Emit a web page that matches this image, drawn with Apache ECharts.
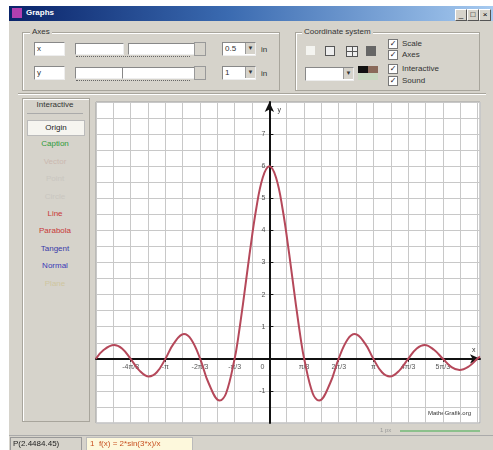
<!DOCTYPE html>
<html>
<head>
<meta charset="utf-8">
<script src="https://cdn.jsdelivr.net/npm/echarts@6/dist/echarts.min.js"></script>
<style>
  body { margin: 0; width: 493px; height: 450px; background: #fff; position: relative; overflow: hidden;
         font-family: "Liberation Sans", "DejaVu Sans", sans-serif; font-size: 8px; color: #333; }
  .abs { position: absolute; }
  .win { left: 9px; top: 6px; width: 484px; height: 444px; background: #d6d3cb; }
  .title { left: 9px; top: 6px; width: 484px; height: 15px; background: linear-gradient(to right, #0a246a, #3a6ab0 45%, #a6caf0); }
  .tbtn { top: 9px; width: 10px; height: 10px; background: #d6d3cb; border: 1px solid #fff; border-right-color: #555; border-bottom-color: #555;
          font-size: 8px; line-height: 9px; text-align: center; color: #000; }
  .group { border: 1px solid #a8a59c; box-shadow: 1px 1px 0 #fff inset; }
  .glabel { background: #d6d3cb; padding: 0 2px; color: #333; }
  .field { background: #fff; border: 1px solid #888; border-right-color: #eee; border-bottom-color: #eee; }
  .dots { height: 2px; border-bottom: 1px dotted #666; }
  .combo { background: #fff; border: 1px solid #888; border-right-color: #eee; border-bottom-color: #eee; padding-left: 2px; line-height: 12px; }
  .arrow { right: 0; top: 0; width: 9px; height: 11px; background: #d6d3cb; border-left: 1px solid #999; font-size: 6px; text-align: center; line-height: 11px; }
  .chk { width: 8px; height: 8px; background: #fff; border: 1px solid #777; font-size: 8px; line-height: 8px; text-align: center; color: #222; }
  .ibtn { left: 27px; width: 56px; height: 14px; text-align: center; line-height: 14px; }
</style>
</head>
<body>
<div class="abs win"></div>
<div class="abs title"></div>
<div class="abs" style="left:12px;top:8px;width:10px;height:10px;background:#b040b0;"></div>
<div class="abs" style="left:26px;top:8px;color:#fff;font-weight:bold;font-size:8px;">Graphs</div>
<div class="abs tbtn" style="left:455px;">_</div>
<div class="abs tbtn" style="left:467px;">□</div>
<div class="abs tbtn" style="left:479px;">×</div>

<!-- Axes group -->
<div class="abs group" style="left:22px;top:32px;width:256px;height:57px;"></div>
<div class="abs glabel" style="left:30px;top:27px;">Axes</div>
<div class="abs field" style="left:34px;top:42px;width:27px;height:12px;padding-left:2px;line-height:12px;">x</div>
<div class="abs field" style="left:75px;top:43px;width:47px;height:10px;"></div>
<div class="abs field" style="left:128px;top:43px;width:65px;height:10px;"></div>
<div class="abs" style="left:194px;top:42px;width:10px;height:12px;background:#d6d3cb;border:1px solid #999;"></div>
<div class="abs dots" style="left:76px;top:54px;width:114px;"></div>
<div class="abs combo" style="left:222px;top:42px;width:30px;height:12px;">0.5<div class="abs arrow">▼</div></div>
<div class="abs" style="left:261px;top:45px;">in</div>
<div class="abs field" style="left:34px;top:66px;width:27px;height:12px;padding-left:2px;line-height:12px;">y</div>
<div class="abs field" style="left:75px;top:67px;width:47px;height:10px;"></div>
<div class="abs field" style="left:122px;top:67px;width:71px;height:10px;"></div>
<div class="abs" style="left:194px;top:66px;width:10px;height:12px;background:#d6d3cb;border:1px solid #999;"></div>
<div class="abs dots" style="left:76px;top:78px;width:114px;"></div>
<div class="abs combo" style="left:222px;top:66px;width:30px;height:12px;">1<div class="abs arrow">▼</div></div>
<div class="abs" style="left:261px;top:69px;">in</div>

<!-- Coordinate system group -->
<div class="abs group" style="left:295px;top:32px;width:183px;height:57px;"></div>
<div class="abs glabel" style="left:302px;top:27px;">Coordinate system</div>
<div class="abs" style="left:306px;top:46px;width:9px;height:9px;background:#f4f4f0;"></div>
<div class="abs" style="left:325px;top:46px;width:8px;height:8px;border:1px solid #555;background:#eee;"></div>
<div class="abs" style="left:346px;top:46px;width:10px;height:9px;border:1px solid #555;background:linear-gradient(#555,#555) center/1px 100% no-repeat, linear-gradient(#555,#555) center/100% 1px no-repeat, #eee;"></div>
<div class="abs" style="left:366px;top:46px;width:10px;height:10px;background:#666;"></div>
<div class="abs combo" style="left:305px;top:67px;width:45px;height:12px;"><div class="abs arrow">▼</div></div>
<div class="abs" style="left:358px;top:66px;width:10px;height:7px;background:#111;"></div>
<div class="abs" style="left:368px;top:66px;width:10px;height:7px;background:#8a6a5a;"></div>
<div class="abs" style="left:358px;top:73px;width:20px;height:7px;background:#c8d8c0;"></div>
<div class="abs chk" style="left:388px;top:39px;">✓</div><div class="abs" style="left:402px;top:39px;">Scale</div>
<div class="abs chk" style="left:388px;top:50px;">✓</div><div class="abs" style="left:402px;top:50px;">Axes</div>
<div class="abs chk" style="left:388px;top:64px;">✓</div><div class="abs" style="left:402px;top:64px;">Interactive</div>
<div class="abs chk" style="left:388px;top:76px;">✓</div><div class="abs" style="left:402px;top:76px;">Sound</div>

<div class="abs" style="left:18px;top:93px;width:468px;height:1px;background:#a8a59c;border-bottom:1px solid #fff;"></div>

<!-- Interactive panel -->
<div class="abs group" style="left:22px;top:98px;width:66px;height:322px;"></div>
<div class="abs" style="left:27px;top:100px;width:56px;text-align:center;color:#333;">Interactive</div>
<div class="abs" style="left:27px;top:113px;width:56px;height:1px;background:#aaa;"></div>
<div id="ibtns"></div>

<!-- plot -->
<div id="main" class="abs" style="left:90px;top:97px;width:395px;height:331px;"></div>
<div class="abs" style="left:380px;top:427px;font-size:6px;color:#999;">1 px</div>
<div class="abs" style="left:400px;top:430px;width:80px;height:2px;background:#8cc08c;"></div>

<!-- status bar -->
<div class="abs" style="left:9px;top:435px;width:484px;height:1px;background:#aaa;"></div>
<div class="abs" style="left:10px;top:437px;width:68px;height:12px;border:1px solid #999;line-height:12px;padding-left:2px;color:#222;">P(2.4484.45)</div>
<div class="abs" style="left:86px;top:437px;width:102px;height:12px;border:1px solid #bbb;background:#fdf8dc;line-height:12px;padding-left:3px;color:#c85020;">1&nbsp;&nbsp;f(x) = 2*sin(3*x)/x</div>

<script>
// interactive buttons (text, colour)
var btnNames = ['Origin', 'Caption', 'Vector', 'Point', 'Circle', 'Line', 'Parabola', 'Tangent', 'Normal', 'Plane'];
var btnColors = ['#222', '#2f9a3a', '#cbb8b0', '#c9c6c0', '#c9c6c0', '#c83838', '#c83838', '#3a3aa8', '#3a3ab8', '#cfc6a0'];
var html = '';
btnNames.forEach(function (n, i) {
  var top = 120 + i * 17.4;
  var bg = i === 0 ? 'background:#f6f5f0;border:1px solid #bbb;' : '';
  html += '<div class="abs ibtn" style="top:' + top + 'px;color:' + btnColors[i] + ';' + bg + '">' + n + '</div>';
});
document.getElementById('ibtns').innerHTML = html;

// curve
var curveX = [-5.24, -5.0, -4.69, -4.45, -4.19, -3.93, -3.64, -3.40, -3.14, -2.88, -2.58, -2.36, -2.09, -1.83, -1.50, -1.31, -1.05,
  -0.95, -0.80, -0.60, -0.40, -0.20, 0, 0.20, 0.40, 0.60, 0.80, 0.95, 1.05, 1.31, 1.50, 1.83, 2.09, 2.36, 2.58, 2.88, 3.14,
  3.40, 3.64, 3.93, 4.19, 4.45, 4.69, 4.97, 5.24, 5.50, 5.74, 6.02, 6.28, 6.36];
var curveY = [0, 0.28, 0.43, 0.32, 0, -0.36, -0.55, -0.42, 0, 0.49, 0.77, 0.60, 0, -0.77, -1.30, -1.08, 0,
  0.60, 1.69, 3.25, 4.66, 5.65, 6.0, 5.65, 4.66, 3.25, 1.69, 0.60, 0, -1.08, -1.30, -0.77, 0, 0.60, 0.77, 0.49, 0,
  -0.42, -0.55, -0.36, 0, 0.32, 0.43, 0.28, 0, -0.26, -0.35, -0.24, 0, 0.07];

var xStep = Math.PI / 6;
var xMin = -10 * xStep, xMax = 6.36;
var yMin = -2, yMax = 8;
var xTickVals = [-4, -3, -2, -1, 0, 1, 2, 3, 4, 5].map(function (k) { return k * Math.PI / 3; });
var xTickLabels = ['-4π/3', '-π', '-2π/3', '-π/3', '0', 'π/3', '2π/3', 'π', '4π/3', '5π/3'];
var yTickVals = [-1, 1, 2, 3, 4, 5, 6, 7];

var gridBox = { left: 6, right: 5, top: 5, bottom: 5 };
var gridLine = { show: true, lineStyle: { color: '#c8c8c8', width: 1 } };

var chart = echarts.init(document.getElementById('main'));
var option = {
  backgroundColor: '#d6d3cb',
  animation: false,
  grid: { left: gridBox.left, right: gridBox.right, top: gridBox.top, bottom: gridBox.bottom, containLabel: false,
    outerBoundsMode: 'none', show: true, backgroundColor: '#fff', borderColor: '#a0a0a0', borderWidth: 1 },
  xAxis: [{
    type: 'value', min: xMin, max: xMax, position: 'bottom', offset: 0,
    name: 'x', nameLocation: 'end', nameGap: -8,
    nameTextStyle: { fontSize: 7, color: '#333', verticalAlign: 'bottom', padding: [0, 0, 5, 0] },
    axisLine: { onZero: false, lineStyle: { color: '#111', width: 2 }, symbol: ['none', 'arrow'], symbolSize: [7, 10] },
    axisTick: { customValues: xTickVals, length: 3, lineStyle: { color: '#111' } },
    axisLabel: {
      customValues: xTickVals, fontSize: 7, color: '#555', margin: 5,
      formatter: function (v) {
        for (var i = 0; i < xTickVals.length; i++) {
          if (Math.abs(xTickVals[i] - v) < 1e-6) return xTickLabels[i] === '0' ? '{z|0}' : xTickLabels[i];
        }
        return '';
      },
      rich: { z: { fontSize: 7, color: '#555', padding: [0, 14, 0, 0] } }
    },
    splitLine: { show: false }
  }, {
    // grid lines every pi/6
    type: 'value', min: xMin, max: xMax, interval: xStep, position: 'top',
    axisLine: { show: false }, axisTick: { show: false }, axisLabel: { show: false },
    splitLine: gridLine
  }],
  yAxis: [{
    type: 'value', min: yMin, max: yMax, position: 'left', offset: 0,
    name: 'y', nameLocation: 'end', nameGap: -12,
    nameTextStyle: { fontSize: 7, color: '#333', align: 'left', padding: [0, 0, 0, 8] },
    axisLine: { onZero: false, lineStyle: { color: '#111', width: 2 }, symbol: ['none', 'arrow'], symbolSize: [7, 10] },
    axisTick: { customValues: yTickVals, inside: true, length: 4, lineStyle: { color: '#111' } },
    axisLabel: { customValues: yTickVals, fontSize: 7, color: '#555', margin: 4 },
    splitLine: { show: false }
  }, {
    // grid lines every 0.5
    type: 'value', min: yMin, max: yMax, interval: 0.5, position: 'right',
    axisLine: { show: false }, axisTick: { show: false }, axisLabel: { show: false },
    splitLine: gridLine
  }],
  graphic: [{
    type: 'text', right: 14, bottom: 12,
    style: { text: 'MatheGrafik.org', fontSize: 6, fill: '#333', fontFamily: 'Liberation Sans' }
  }],
  series: [{
    type: 'line',
    xAxisIndex: 0, yAxisIndex: 0,
    smooth: 0.4,
    showSymbol: false,
    clip: true,
    lineStyle: { color: '#b5485a', width: 2 },
    data: curveX.map(function (x, i) { return [x, curveY[i]]; })
  }]
};
chart.setOption(option);

// move the main axes so they cross at the origin
var H = 331, W = 395;
var zeroY = chart.convertToPixel({ yAxisIndex: 0 }, 0);
var zeroX = chart.convertToPixel({ xAxisIndex: 0 }, 0);
chart.setOption({
  xAxis: [{ offset: -((H - gridBox.bottom) - zeroY) }, {}],
  yAxis: [{ offset: -(zeroX - gridBox.left) }, {}]
});
</script>
</body>
</html>
